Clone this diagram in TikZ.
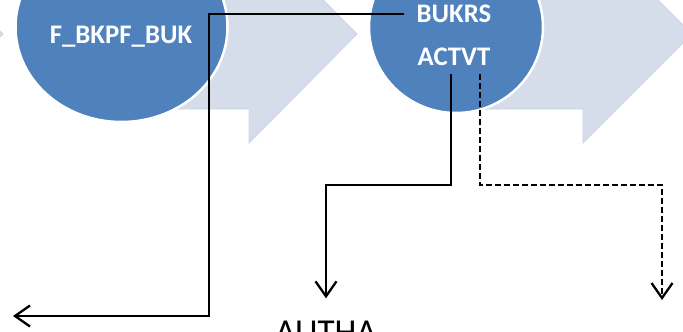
\documentclass[tikz,border=0pt]{standalone}
\usepackage{fontspec}
\setmainfont{Carlito}
\usetikzlibrary{arrows.meta,calc}
\definecolor{chev}{HTML}{D5DCEA}
\definecolor{chevedge}{HTML}{CCD4E6}
\definecolor{ellblue}{HTML}{4F81BD}
\tikzset{
  chevron/.style={fill=chev, draw=chevedge, line width=0.8pt},
  bubble/.style={fill=ellblue, draw=white, line width=2.5pt},
  label/.style={text=white, font=\fontsize{26.8}{30}\selectfont\bfseries, inner sep=0pt},
  conn/.style={draw=black, line width=2.3pt, -{Straight Barb[length=15pt,width=21pt,line width=2.3pt]}},
  dconn/.style={conn, dash pattern=on 6pt off 3pt}
}
\begin{document}
\begin{tikzpicture}[x=1pt,y=-1pt]
\useasboundingbox (0,0) rectangle (683,332);
\clip (0,0) rectangle (683,332);
% chevrons
\path[chevron] (-200,-42) -- (-106,-42) -- (-106,-75) -- (3,34) -- (-106,143) -- (-106,110) -- (-200,110) -- cycle;
\path[chevron] (100,-42) -- (249,-42) -- (249,-75) -- (357,34) -- (249,143) -- (249,109) -- (100,109) -- cycle;
\path[chevron] (456,-42) -- (583,-42) -- (583,-75) -- (692,34) -- (583,143) -- (583,109) -- (456,109) -- cycle;
% ellipses
\path[bubble] (121.5,27) ellipse [x radius=106pt, y radius=95pt];
\path[bubble] (456,27) ellipse [x radius=87pt, y radius=86pt];
% texts
\node[label] (fbkpf) at (121,37) {F\_BKPF\_BUK};
\node[label, inner xsep=12pt] (bukrs) at (454,14) {BUKRS};
\node[label] (actvt) at (454,57) {ACTVT};
\node[inner sep=0pt, anchor=base, font=\fontsize{35}{40}\selectfont] (autha) at (326,343) {AUTHA};
\coordinate (leftend) at (13,316);
\coordinate (dashend) at (662,300);
% connectors
\draw[conn] (bukrs.west) -- (209,14) -- (209,316) -- (leftend);
\draw[conn] ($(actvt.south)+(-3,8)$) -- ++(0,111) -| ([yshift=22pt]autha.north);
\draw[dconn] ($(actvt.south)+(26,8)$) -- ++(0,111) -| (dashend);
\end{tikzpicture}
\end{document}
